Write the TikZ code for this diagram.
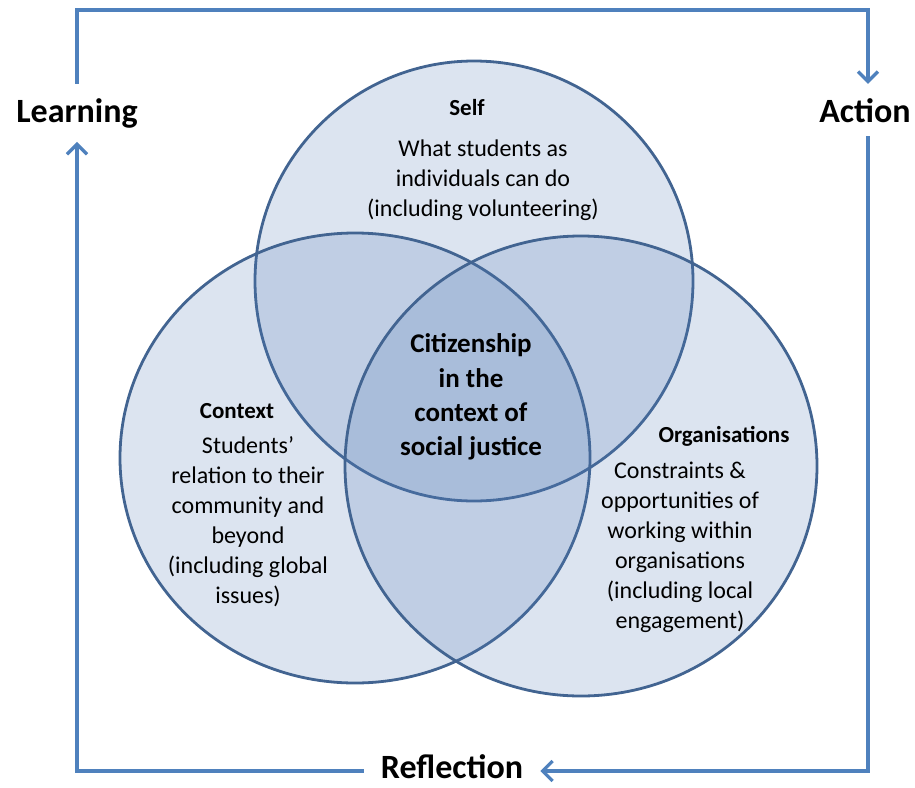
\documentclass[tikz,border=0pt]{standalone}
\usepackage{fontspec}
\setmainfont{Carlito}
\usepackage{tikz}
\usetikzlibrary{shapes.geometric, arrows.meta, positioning, calc}
\definecolor{ringblue}{RGB}{66, 100, 145}
\definecolor{ringfill}{RGB}{80, 120, 180}
\definecolor{loopblue}{RGB}{79, 129, 189}
\tikzstyle{ring} = [ellipse, inner sep=0pt, draw=ringblue, line width=2.8pt, fill=ringfill, fill opacity=0.2]
\tikzstyle{stagelabel} = [font=\fontsize{34}{40}\selectfont\bfseries, anchor=base, inner xsep=17pt, inner ysep=14pt]
\tikzstyle{setname} = [font=\fontsize{23}{28}\selectfont\bfseries, anchor=base, inner sep=0pt]
\tikzstyle{settext} = [font=\fontsize{24}{30}\selectfont, align=center, inner sep=0pt]
\tikzstyle{coretext} = [font=\fontsize{27}{34.3}\selectfont\bfseries, align=center, inner sep=0pt]
\tikzstyle{cyclearrow} = [line width=3.3pt, draw=loopblue, ->, >={Straight Barb[length=10pt, width=20pt]}]

\begin{document}
\begin{tikzpicture}[x=1pt, y=-1pt]
      \useasboundingbox (0,0) rectangle (915,787);

      % the three sets
      \node[ring, minimum width=438pt, minimum height=440pt] (selfset) at (474,281) {};
      \node[ring, minimum width=470pt, minimum height=450pt] (contextset) at (355,458) {};
      \node[ring, minimum width=472pt, minimum height=460pt] (orgset) at (581,466) {};

      \node[setname] (self) at (467,115) {Self};
      \node[settext] (selftext) at (483,180) {What students as\\individuals can do\\(including volunteering)};
      \node[setname] (context) at (237,418) {Context};
      \node[settext] (contexttext) at (248,522) {Students’\\relation to their\\community and\\beyond\\(including global\\issues)};
      \node[setname] (orgs) at (724,442) {Organisations};
      \node[settext] (orgstext) at (680,547) {Constraints \&\\opportunities of\\working within\\organisations\\(including local\\engagement)};
      \node[coretext] (core) at (471,397) {Citizenship\\in the\\context of\\social justice};

      % learning cycle
      \node[stagelabel] (learn) at (77,122) {Learning};
      \node[stagelabel] (act) at (865,122) {Action};
      \node[stagelabel, inner ysep=0pt] (refl) at (452,778) {Reflection};
      \coordinate (tr) at (868,10);
      \coordinate (br) at (868,771);

      \draw[cyclearrow] (learn.north) |- (tr) -- (tr |- act.north);
      \draw[cyclearrow] (tr |- act.south) -- (br) -- (br -| refl.east);
      \draw[cyclearrow] (br -| refl.west) -| (learn.south);
\end{tikzpicture}
\end{document}
